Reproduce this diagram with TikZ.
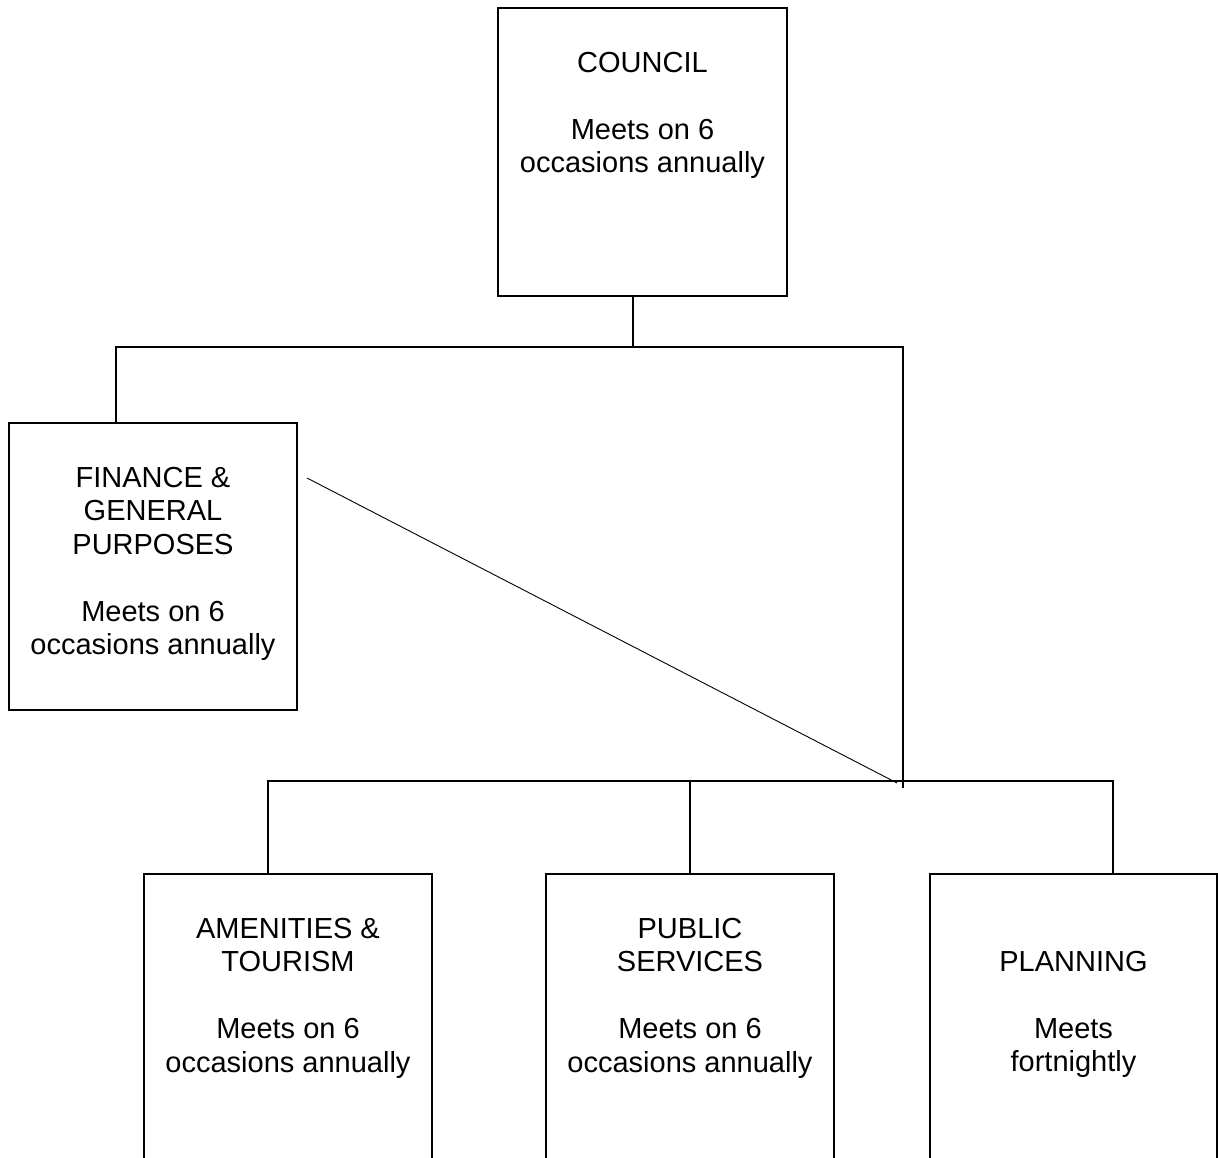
\documentclass[tikz,border=0pt]{standalone}
\usepackage{fontspec}
\setmainfont{Liberation Sans}
\begin{document}
\begin{tikzpicture}[x=1pt,y=-1pt,
  box/.style={draw=black,line width=1.8pt,rectangle,inner sep=0pt,minimum width=288pt,minimum height=288pt},
  txt/.style={align=center,inner sep=0pt,anchor=north,font=\fontsize{29}{33.5}\selectfont},
  conn/.style={draw=black,line width=1.8pt},
  thin/.style={draw=black,line width=0.9pt}]
\useasboundingbox (0,0) rectangle (1218,1158);
\clip (0,0) rectangle (1218,1158);
% boxes
\node[box,minimum width=289pt] (council) at (642.5,152) {};
\node[box,minimum height=287pt] (finance) at (153,566.5) {};
\node[box] (amen) at (288,1018) {};
\node[box] (pub) at (690,1018) {};
\node[box,minimum width=287pt] (plan) at (1073.5,1018) {};
% texts
\node[txt] (councilT) at (642.5,48.55) {\strut COUNCIL\\\strut\\\strut Meets on 6\\\strut occasions annually};
\node[txt] (financeT) at (153,463.55) {\strut FINANCE \&\\\strut GENERAL\\\strut PURPOSES\\\strut\\\strut Meets on 6\\\strut occasions annually};
\node[txt] (amenT) at (288,914.55) {\strut AMENITIES \&\\\strut TOURISM\\\strut\\\strut Meets on 6\\\strut occasions annually};
\node[txt] (pubT) at (690,914.55) {\strut PUBLIC\\\strut SERVICES\\\strut\\\strut Meets on 6\\\strut occasions annually};
\node[txt] (planT) at (1073.5,947.55) {\strut PLANNING\\\strut\\\strut Meets\\\strut fortnightly};
% junction coordinates
\coordinate (jc) at (633,347);
\coordinate (jl) at (116,347);
\coordinate (jr) at (903,347);
\coordinate (jrb) at (903,788);
\coordinate (bl) at (268,781);
\coordinate (bm) at (690,781);
\coordinate (br) at (1113,781);
\coordinate (d1) at (307,478);
\coordinate (d2) at (897,783);
% connectors
\draw[conn] (council.south -| jc) -- (jc);
\draw[conn] (finance.north -| jl) -- (jl) -- (jr) -- (jrb);
\draw[conn] (amen.north -| bl) -- (bl) -- (br) -- (plan.north -| br);
\draw[conn] (bm) -- (pub.north);
\draw[thin] (d1) -- (d2);
\end{tikzpicture}
\end{document}
